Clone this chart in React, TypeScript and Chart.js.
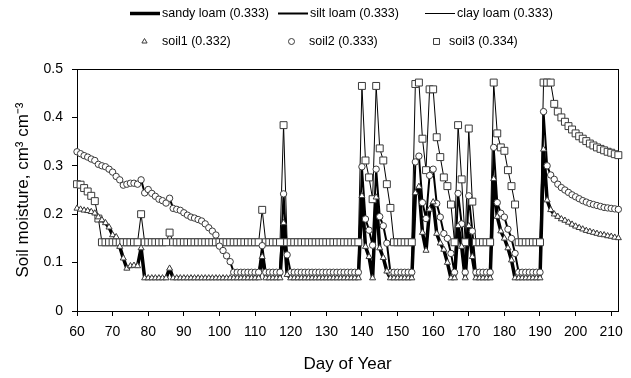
import React, { useEffect, useRef } from "react";
import { Chart, registerables } from "chart.js";

Chart.register(...registerables);

// Daily soil moisture (cm3 cm-3), day of year 60 .. 212
const FIRST_DAY = 60;

const sandyLoam = [
  0.212, 0.210, 0.208, 0.207, 0.205, 0.202, 0.194, 0.188, 0.182, 0.173, // 60
  0.157, 0.153, 0.133, 0.109, 0.088, 0.093, 0.094, 0.093, 0.130, 0.068, // 70
  0.068, 0.068, 0.068, 0.068, 0.068, 0.068, 0.088, 0.068, 0.068, 0.068, // 80
  0.068, 0.068, 0.068, 0.068, 0.068, 0.068, 0.068, 0.068, 0.068, 0.068, // 90
  0.068, 0.068, 0.068, 0.068, 0.068, 0.068, 0.068, 0.068, 0.068, 0.068, // 100
  0.068, 0.068, 0.112, 0.068, 0.068, 0.068, 0.068, 0.068, 0.182, 0.075, // 110
  0.068, 0.068, 0.068, 0.068, 0.068, 0.068, 0.068, 0.068, 0.068, 0.068, // 120
  0.068, 0.068, 0.068, 0.068, 0.068, 0.068, 0.068, 0.068, 0.068, 0.068, // 130
  0.238, 0.133, 0.112, 0.068, 0.235, 0.130, 0.110, 0.082, 0.068, 0.068, // 140
  0.068, 0.068, 0.068, 0.068, 0.068, 0.244, 0.257, 0.162, 0.125, 0.210, // 150
  0.225, 0.160, 0.140, 0.127, 0.100, 0.068, 0.068, 0.176, 0.133, 0.068, // 160
  0.176, 0.112, 0.068, 0.068, 0.068, 0.068, 0.068, 0.273, 0.195, 0.165, // 170
  0.150, 0.130, 0.105, 0.068, 0.068, 0.068, 0.068, 0.068, 0.068, 0.068, // 180
  0.068, 0.334, 0.229, 0.209, 0.200, 0.195, 0.190, 0.187, 0.183, 0.179, // 190
  0.175, 0.172, 0.169, 0.166, 0.164, 0.162, 0.160, 0.158, 0.157, 0.155, // 200
  0.154, 0.152, 0.151, // 210
];

const siltLoam = [
  0.329, 0.325, 0.321, 0.318, 0.314, 0.311, 0.303, 0.300, 0.298, 0.293, // 60
  0.287, 0.278, 0.271, 0.260, 0.262, 0.264, 0.264, 0.262, 0.271, 0.244, // 70
  0.251, 0.243, 0.237, 0.231, 0.228, 0.223, 0.233, 0.212, 0.210, 0.208, // 80
  0.203, 0.198, 0.194, 0.192, 0.189, 0.186, 0.180, 0.172, 0.165, 0.157, // 90
  0.134, 0.125, 0.114, 0.102, 0.080, 0.080, 0.080, 0.080, 0.080, 0.080, // 100
  0.080, 0.080, 0.135, 0.080, 0.080, 0.080, 0.080, 0.080, 0.242, 0.116, // 110
  0.080, 0.080, 0.080, 0.080, 0.080, 0.080, 0.080, 0.080, 0.080, 0.080, // 120
  0.080, 0.080, 0.080, 0.080, 0.080, 0.080, 0.080, 0.080, 0.080, 0.080, // 130
  0.298, 0.190, 0.167, 0.136, 0.293, 0.195, 0.176, 0.140, 0.080, 0.080, // 140
  0.080, 0.080, 0.080, 0.080, 0.080, 0.308, 0.320, 0.224, 0.191, 0.280, // 150
  0.293, 0.222, 0.194, 0.160, 0.150, 0.119, 0.080, 0.243, 0.180, 0.080, // 160
  0.238, 0.165, 0.080, 0.080, 0.080, 0.080, 0.080, 0.338, 0.224, 0.202, // 170
  0.194, 0.169, 0.150, 0.119, 0.080, 0.080, 0.080, 0.080, 0.080, 0.080, // 180
  0.080, 0.412, 0.300, 0.281, 0.272, 0.262, 0.255, 0.250, 0.245, 0.240, // 190
  0.236, 0.232, 0.228, 0.225, 0.222, 0.220, 0.218, 0.216, 0.214, 0.213, // 200
  0.212, 0.211, 0.210, // 210
];

const clayLoam = [
  0.262, 0.261, 0.254, 0.247, 0.238, 0.227, 0.191, 0.142, 0.142, 0.142, // 60
  0.142, 0.142, 0.142, 0.142, 0.142, 0.142, 0.142, 0.142, 0.200, 0.142, // 70
  0.142, 0.142, 0.142, 0.142, 0.142, 0.142, 0.162, 0.142, 0.142, 0.142, // 80
  0.142, 0.142, 0.142, 0.142, 0.142, 0.142, 0.142, 0.142, 0.142, 0.142, // 90
  0.142, 0.142, 0.142, 0.142, 0.142, 0.142, 0.142, 0.142, 0.142, 0.142, // 100
  0.142, 0.142, 0.209, 0.142, 0.142, 0.142, 0.142, 0.142, 0.384, 0.142, // 110
  0.142, 0.142, 0.142, 0.142, 0.142, 0.142, 0.142, 0.142, 0.142, 0.142, // 120
  0.142, 0.142, 0.142, 0.142, 0.142, 0.142, 0.142, 0.142, 0.142, 0.142, // 130
  0.465, 0.311, 0.276, 0.231, 0.465, 0.336, 0.311, 0.262, 0.213, 0.142, // 140
  0.142, 0.142, 0.142, 0.142, 0.142, 0.469, 0.472, 0.356, 0.291, 0.458, // 150
  0.458, 0.359, 0.318, 0.276, 0.258, 0.220, 0.142, 0.384, 0.272, 0.142, // 160
  0.377, 0.226, 0.142, 0.142, 0.142, 0.142, 0.142, 0.472, 0.367, 0.338, // 170
  0.331, 0.291, 0.258, 0.220, 0.142, 0.142, 0.142, 0.142, 0.142, 0.142, // 180
  0.142, 0.472, 0.472, 0.472, 0.428, 0.412, 0.400, 0.391, 0.382, 0.375, // 190
  0.367, 0.361, 0.356, 0.351, 0.346, 0.342, 0.338, 0.335, 0.332, 0.329, // 200
  0.327, 0.324, 0.322, // 210
];

const DAYS = sandyLoam.map((_, i) => FIRST_DAY + i);

const LINE_LABELS = ["sandy loam (0.333)", "silt loam (0.333)", "clay loam (0.333)"];
const MARKER_LABELS = ["soil1 (0.332)", "soil2 (0.333)", "soil3 (0.334)"];

const X_TICKS = [60, 70, 80, 90, 100, 110, 120, 130, 140, 150, 160, 170, 180, 190, 200, 210];
const Y_TICKS = [0, 0.1, 0.2, 0.3, 0.4, 0.5];

const FONT = 'Arial, "Liberation Sans", Helvetica, sans-serif';
const MARKER_STROKE = "#3a3a3a";

function markerPath(ctx: CanvasRenderingContext2D, style: string, x: number, y: number, r: number) {
  ctx.beginPath();
  if (style === "triangle") {
    for (let k = 0; k < 3; k++) {
      const a = (k * 2 * Math.PI) / 3;
      const px = x + Math.sin(a) * r;
      const py = y - Math.cos(a) * r;
      if (k === 0) ctx.moveTo(px, py);
      else ctx.lineTo(px, py);
    }
    ctx.closePath();
  } else if (style === "rect") {
    const s = r * Math.SQRT1_2;
    ctx.rect(x - s, y - s, 2 * s, 2 * s);
  } else {
    ctx.arc(x, y, r, 0, Math.PI * 2);
  }
}

// Two-row legend: line samples on top, marker samples below
const legendPlugin = {
  id: "twoRowLegend",
  afterDraw(chart: any) {
    const ctx: CanvasRenderingContext2D = chart.ctx;
    const ds = chart.data.datasets;
    ctx.save();
    ctx.font = `12.5px ${FONT}`;
    ctx.fillStyle = "#000";
    ctx.textBaseline = "middle";
    ctx.textAlign = "left";

    const lineCols = [130, 278, 425];
    for (let i = 0; i < 3; i++) {
      const d = ds[i];
      const x = lineCols[i];
      const y = 13.5;
      ctx.beginPath();
      ctx.moveTo(x, y);
      ctx.lineTo(x + 30, y);
      ctx.lineWidth = d.borderWidth;
      ctx.strokeStyle = d.borderColor;
      ctx.stroke();
      ctx.fillStyle = "#000";
      ctx.fillText(d.label, x + 32, y);
    }

    const markerCols = [
      [144, 162],
      [291, 309],
      [436, 449],
    ];
    for (let i = 0; i < 3; i++) {
      const d = ds[3 + i];
      const [mx, tx] = markerCols[i];
      const y = 41;
      const r = d.pointStyle === "rect" ? 4.2 : 3;
      markerPath(ctx, d.pointStyle, mx + 0.5, y + 0.5, r);
      ctx.fillStyle = "#fff";
      ctx.fill();
      ctx.lineWidth = 1;
      ctx.strokeStyle = d.pointBorderColor;
      ctx.stroke();
      ctx.fillStyle = "#000";
      ctx.fillText(d.label, tx, y + 1);
    }
    ctx.restore();
  },
};

// Box around the plot area
const framePlugin = {
  id: "plotFrame",
  beforeDatasetsDraw(chart: any) {
    const { ctx, chartArea } = chart;
    ctx.save();
    ctx.strokeStyle = "#000";
    ctx.lineWidth = 1;
    ctx.strokeRect(
      Math.round(chartArea.left) + 0.5,
      Math.round(chartArea.top) + 0.5,
      Math.round(chartArea.right) - Math.round(chartArea.left),
      Math.round(chartArea.bottom) - Math.round(chartArea.top)
    );
    ctx.restore();
  },
};

export default function App() {
  const canvasRef = useRef<HTMLCanvasElement>(null);

  useEffect(() => {
    const canvas = canvasRef.current;
    if (!canvas) return;

    const lineSet = (label: string, data: number[], width: number, order: number) => ({
      label,
      data,
      borderColor: "#000",
      backgroundColor: "#000",
      borderWidth: width,
      borderJoinStyle: "round",
      borderCapStyle: "round",
      pointRadius: 0,
      pointHoverRadius: 0,
      tension: 0,
      fill: false,
      order,
    });

    const markerSet = (label: string, data: number[], style: string, radius: number, order: number) => ({
      label,
      data,
      showLine: false,
      pointStyle: style,
      pointRadius: radius,
      pointHoverRadius: radius,
      pointBackgroundColor: "#fff",
      pointBorderColor: MARKER_STROKE,
      pointBorderWidth: 1,
      borderColor: MARKER_STROKE,
      backgroundColor: "#fff",
      clip: false,
      order,
    });

    const chart = new Chart(canvas, {
      type: "line",
      data: {
        labels: DAYS,
        datasets: [
          lineSet(LINE_LABELS[0], sandyLoam, 3.5, 10),
          lineSet(LINE_LABELS[1], siltLoam, 2, 11),
          lineSet(LINE_LABELS[2], clayLoam, 1, 12),
          markerSet(MARKER_LABELS[0], sandyLoam, "triangle", 3.5, 0),
          markerSet(MARKER_LABELS[1], siltLoam, "circle", 3.2, 1),
          markerSet(MARKER_LABELS[2], clayLoam, "rect", 4.9, 2),
        ] as any,
      },
      options: {
        responsive: false,
        animation: false,
        devicePixelRatio: 1,
        events: [],
        layout: { padding: { left: 0, right: 7, top: 69, bottom: 0 } },
        plugins: {
          legend: { display: false },
          tooltip: { enabled: false },
          title: { display: false },
        },
        scales: {
          x: {
            type: "linear",
            min: 60,
            max: 212,
            afterFit: (s: any) => {
              s.height = 67;
            },
            afterBuildTicks: (s: any) => {
              s.ticks = X_TICKS.map((v) => ({ value: v }));
            },
            ticks: {
              color: "#000",
              font: { family: FONT, size: 14 },
              padding: 8,
              maxRotation: 0,
              autoSkip: false,
            },
            grid: {
              drawOnChartArea: false,
              drawTicks: true,
              tickLength: 5,
              color: "#000",
            },
            border: { display: true, color: "#000", width: 1 },
            title: {
              display: true,
              text: "Day of Year",
              color: "#000",
              font: { family: FONT, size: 17 },
              padding: { top: 0, bottom: 3 },
            },
          },
          y: {
            type: "linear",
            min: 0,
            max: 0.5,
            afterFit: (s: any) => {
              s.width = 77;
            },
            afterBuildTicks: (s: any) => {
              s.ticks = Y_TICKS.map((v) => ({ value: v }));
            },
            ticks: {
              color: "#000",
              font: { family: FONT, size: 14 },
              padding: 9,
              callback: (v: any) => String(Number(v)),
            },
            grid: {
              drawOnChartArea: false,
              drawTicks: true,
              tickLength: 5,
              color: "#000",
            },
            border: { display: true, color: "#000", width: 1 },
            title: {
              display: true,
              text: "Soil moisture, cm³ cm⁻³",
              color: "#000",
              font: { family: FONT, size: 17 },
              padding: { top: 13, bottom: 0 },
            },
          },
        },
      } as any,
      plugins: [framePlugin, legendPlugin],
    });

    return () => chart.destroy();
  }, []);

  return (
    <div style={{ position: "fixed", left: 0, top: 0, width: 631, height: 378, background: "#fff" }}>
      <canvas ref={canvasRef} width={631} height={378} style={{ display: "block" }} />
    </div>
  );
}
